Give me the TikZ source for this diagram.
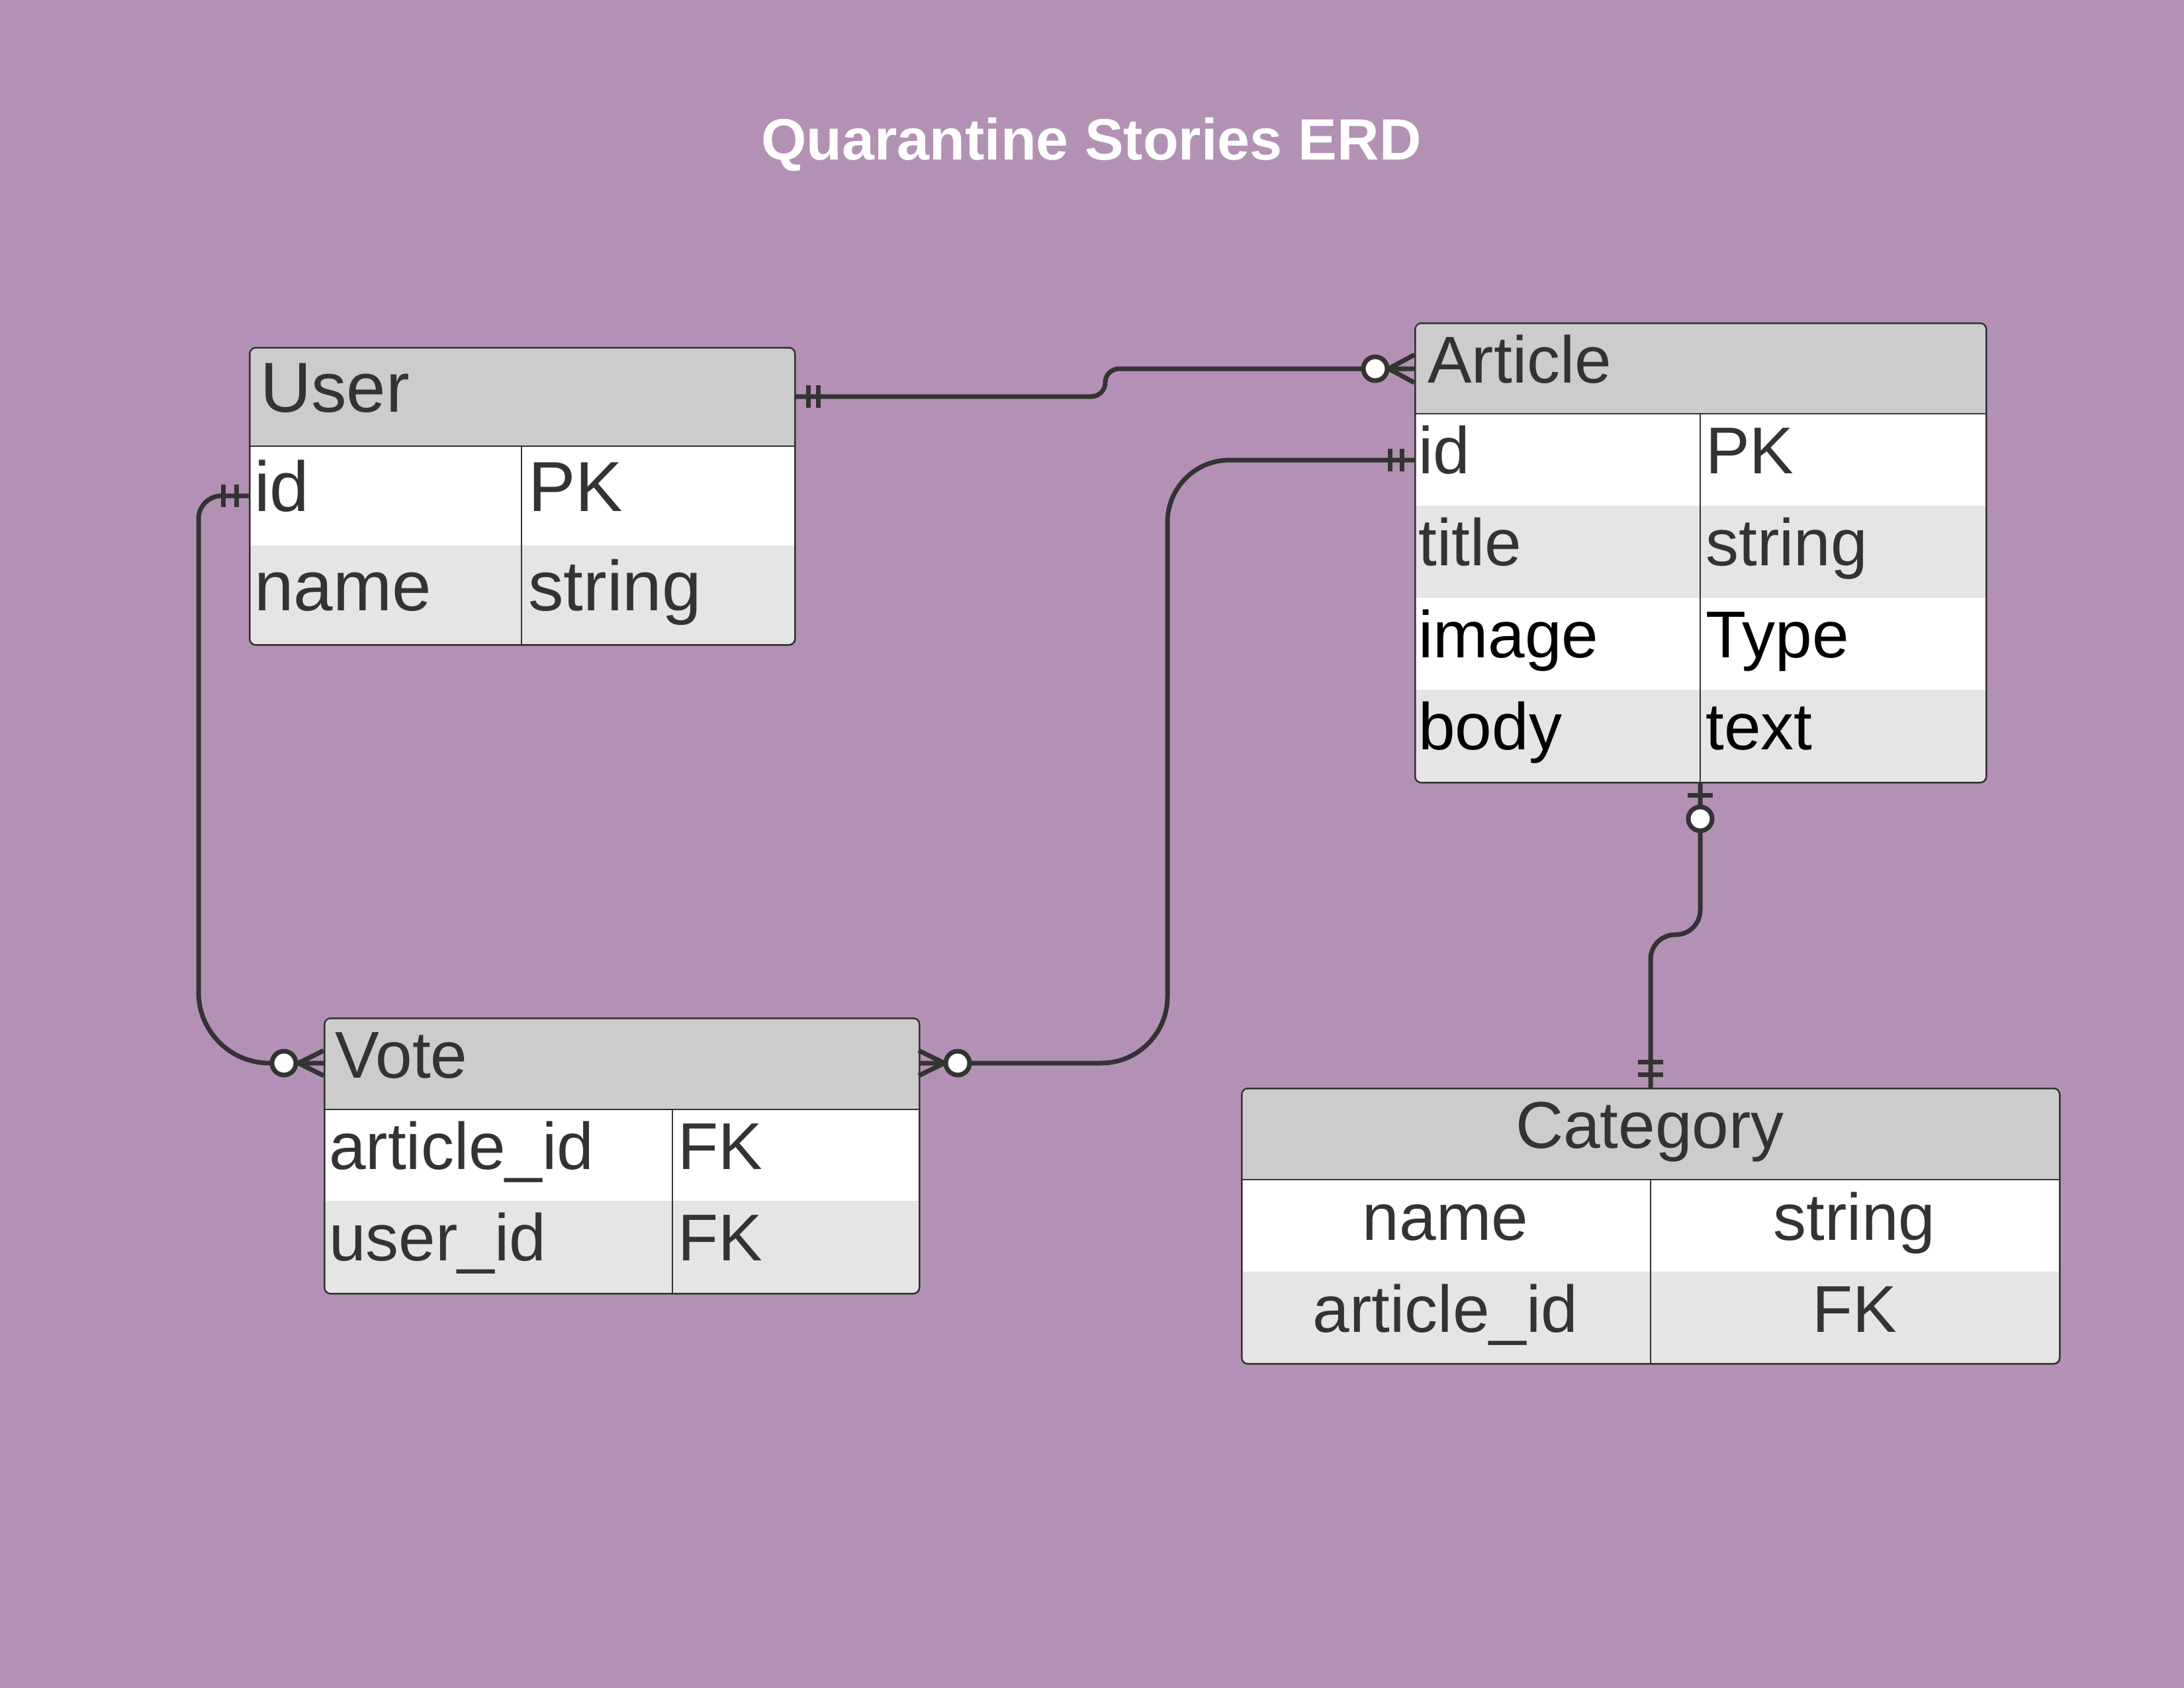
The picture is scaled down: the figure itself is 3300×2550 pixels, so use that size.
\documentclass[tikz,border=0pt]{standalone}
\usepackage{fontspec}
\setmainfont{Liberation Sans}
\definecolor{bg}{RGB}{179,145,180}
\definecolor{hdr}{RGB}{204,204,204}
\definecolor{alt}{RGB}{229,229,229}
\definecolor{ink}{RGB}{51,51,51}
\newcommand\usrtxt{\fontsize{107}{112}\selectfont}
\newcommand\tbltxt{\fontsize{100}{106}\selectfont}
\tikzset{
  frame/.style={draw=ink, line width=2.5pt, rounded corners=9pt, inner sep=0pt, anchor=north west},
  sepline/.style={draw=ink, line width=2pt},
  colline/.style={draw=ink, line width=1.2pt},
  conn/.style={draw=ink, line width=7pt},
  bubble/.style={draw=ink, line width=7pt, fill=white},
  cell/.style={anchor=base west, inner sep=0pt, text=ink},
  ccell/.style={anchor=base, inner sep=0pt, text=ink},
}
\begin{document}
\begin{tikzpicture}[x=1pt,y=-1pt]
\fill[bg] (0,0) rectangle (3300,2550);
\useasboundingbox (0,0) rectangle (3300,2550);

% title
\node[anchor=base, inner sep=0pt, text=white, font=\bfseries\fontsize{88}{92}\selectfont] (title) at (1649,241) {Quarantine Stories ERD};

% ---------- User ----------
\begin{scope}
\clip[rounded corners=9pt] (376,524) rectangle (1200,973);
\fill[hdr] (376,524) rectangle (1200,674);
\fill[white] (376,674) rectangle (1200,824);
\fill[alt] (376,824) rectangle (1200,973);
\end{scope}
\draw[sepline] (376,674) -- (1200,674);
\draw[colline] (788,674) -- (788,973);
\node[frame, minimum width=824pt, minimum height=449pt] (user) at (376,524) {};
\node[cell, font=\usrtxt] (user-h) at (393,622) {User};
\node[cell, font=\usrtxt] (user-id) at (384,772) {id};
\node[cell, font=\usrtxt] (user-pk) at (798,772) {PK};
\node[cell, font=\usrtxt] (user-name) at (384,922) {name};
\node[cell, font=\usrtxt] (user-str) at (798,922) {string};

% ---------- Article ----------
\begin{scope}
\clip[rounded corners=9pt] (2137,487) rectangle (3000,1181);
\fill[hdr] (2137,487) rectangle (3000,625);
\fill[white] (2137,625) rectangle (3000,764);
\fill[alt] (2137,764) rectangle (3000,903);
\fill[white] (2137,903) rectangle (3000,1042);
\fill[alt] (2137,1042) rectangle (3000,1181);
\end{scope}
\draw[sepline] (2137,625) -- (3000,625);
\draw[colline] (2569,625) -- (2569,1181);
\node[frame, minimum width=863pt, minimum height=694pt] (article) at (2137,487) {};
\node[cell, font=\tbltxt] (art-h) at (2157,578) {Article};
\node[cell, font=\tbltxt] (art-id) at (2143,715) {id};
\node[cell, font=\tbltxt] (art-pk) at (2577,715) {PK};
\node[cell, font=\tbltxt] (art-title) at (2143,854) {title};
\node[cell, font=\tbltxt] (art-str) at (2577,854) {string};
\node[cell, font=\tbltxt, text=black] (art-img) at (2143,993) {image};
\node[cell, font=\tbltxt, text=black] (art-type) at (2577,993) {Type};
\node[cell, font=\tbltxt, text=black] (art-body) at (2143,1132) {body};
\node[cell, font=\tbltxt, text=black] (art-text) at (2577,1132) {text};

% ---------- Vote ----------
\begin{scope}
\clip[rounded corners=9pt] (489,1537) rectangle (1388,1953);
\fill[hdr] (489,1537) rectangle (1388,1676);
\fill[white] (489,1676) rectangle (1388,1814);
\fill[alt] (489,1814) rectangle (1388,1953);
\end{scope}
\draw[sepline] (489,1676) -- (1388,1676);
\draw[colline] (1016,1676) -- (1016,1953);
\node[frame, minimum width=899pt, minimum height=416pt] (vote) at (489,1537) {};
\node[cell, font=\tbltxt] (vote-h) at (506,1628) {Vote};
\node[cell, font=\tbltxt] (vote-aid) at (497,1766) {article\_id};
\node[cell, font=\tbltxt] (vote-fk1) at (1024,1766) {FK};
\node[cell, font=\tbltxt] (vote-uid) at (497,1904) {user\_id};
\node[cell, font=\tbltxt] (vote-fk2) at (1024,1904) {FK};

% ---------- Category ----------
\begin{scope}
\clip[rounded corners=9pt] (1875,1643) rectangle (3111,2059);
\fill[hdr] (1875,1643) rectangle (3111,1782);
\fill[white] (1875,1782) rectangle (3111,1921);
\fill[alt] (1875,1921) rectangle (3111,2059);
\end{scope}
\draw[sepline] (1875,1782) -- (3111,1782);
\draw[colline] (2494,1782) -- (2494,2059);
\node[frame, minimum width=1236pt, minimum height=416pt] (category) at (1875,1643) {};
\node[ccell, font=\tbltxt] (cat-h) at (2493,1734) {Category};
\node[ccell, font=\tbltxt] (cat-name) at (2184,1873) {name};
\node[ccell, font=\tbltxt] (cat-str) at (2802,1873) {string};
\node[ccell, font=\tbltxt] (cat-aid) at (2184,2012) {article\_id};
\node[ccell, font=\tbltxt] (cat-fk) at (2802,2012) {FK};

% ---------- connector endpoints ----------
\coordinate (uh) at (1200,599);
\coordinate (ah) at (2137,557);
\coordinate (uid) at (376,749);
\coordinate (vl) at (489,1606);
\coordinate (aid) at (2137,695);
\coordinate (vr) at (1388,1606);
\coordinate (ab) at (2569,1181);
\coordinate (ct) at (2494,1643);

% User -> Article
\draw[conn, rounded corners=21pt] (uh) -- (1670,599) -- (1670,557) -- (ah);
\draw[conn] (1221,582) -- (1221,616) (1236,582) -- (1236,616);
\draw[bubble] (2078,557) circle[radius=18];
\draw[conn] (2137,536) -- (2098,557) (2137,578) -- (2098,557);

% User id -> Vote (left)
\draw[conn] (uid) -- (335,749) .. controls (315.7,749) and (300,764.3) .. (300,784) -- (300,1499) .. controls (300,1558) and (348,1606) .. (407,1606) -- (vl);
\draw[conn] (337,732) -- (337,766) (357,732) -- (357,766);
\draw[bubble] (429,1606) circle[radius=18];
\draw[conn] (489,1587) -- (451,1606) (489,1625) -- (451,1606);

% Article id -> Vote (right)
\draw[conn] (aid) -- (1858,695) .. controls (1806,695) and (1764,737) .. (1764,789) -- (1764,1506) .. controls (1764,1561) and (1719,1606) .. (1664,1606) -- (vr);
\draw[conn] (2100,678) -- (2100,712) (2118,678) -- (2118,712);
\draw[bubble] (1447,1606) circle[radius=18];
\draw[conn] (1388,1587) -- (1427,1606) (1388,1625) -- (1427,1606);

% Article -> Category
\draw[conn, rounded corners=37pt] (ab) -- (2569,1412) -- (2494,1412) -- (ct);
\draw[conn] (2550,1201) -- (2588,1201);
\draw[bubble] (2569,1237) circle[radius=18];
\draw[conn] (2475,1604) -- (2513,1604) (2475,1623) -- (2513,1623);
\end{tikzpicture}
\end{document}
